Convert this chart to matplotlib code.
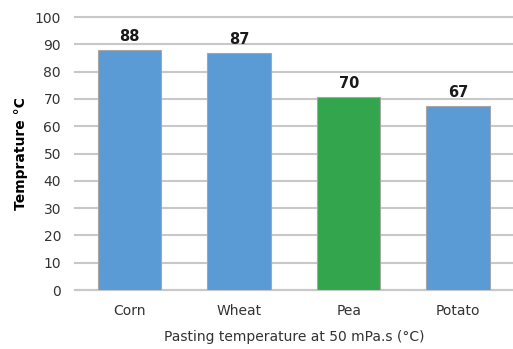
import matplotlib
matplotlib.use("Agg")
import matplotlib.pyplot as plt

# data
categories = ["Corn", "Wheat", "Pea", "Potato"]
values = [87.8, 86.8, 70.6, 67.3]
labels = ["88", "87", "70", "67"]
colors = ["#5B9BD5", "#5B9BD5", "#33A64D", "#5B9BD5"]
yticks = [0, 10, 20, 30, 40, 50, 60, 70, 80, 90, 100]

fig = plt.figure(figsize=(5.13, 3.49), dpi=100)
ax = fig.add_axes([0.146, 0.169, 0.854, 0.782])

x = range(len(categories))
ax.bar(x, values, width=0.58, color=colors, edgecolor="#A6A6A6", linewidth=0.8, zorder=3)
for xi, v, lab in zip(x, values, labels):
    ax.text(xi, v + 2.2, lab, ha="center", va="bottom", fontsize=10.5,
            fontweight="bold", color="#1a1a1a")

ax.set_xlim(-0.5, 3.5)
ax.set_ylim(0, 100)
ax.set_yticks(yticks)
ax.set_xticks(list(x))
ax.set_xticklabels(categories)
ax.tick_params(axis="both", length=0, labelsize=10, colors="#333333")
ax.tick_params(axis="y", pad=10)
ax.tick_params(axis="x", pad=10)
ax.grid(axis="y", color="#C8C8C8", linewidth=1.5, zorder=0)
for gl in ax.get_ygridlines():
    gl.set_clip_on(False)
for s in ["top", "right", "left"]:
    ax.spines[s].set_visible(False)
ax.spines["bottom"].set_color("#C8C8C8")
ax.spines["bottom"].set_linewidth(1.5)

ax.set_ylabel("Temprature °C", fontsize=10, fontweight="bold", labelpad=5)
ax.set_xlabel("Pasting temperature at 50 mPa.s (°C)", fontsize=10, color="#333333", labelpad=9)

fig.savefig("out.png", dpi=100)
